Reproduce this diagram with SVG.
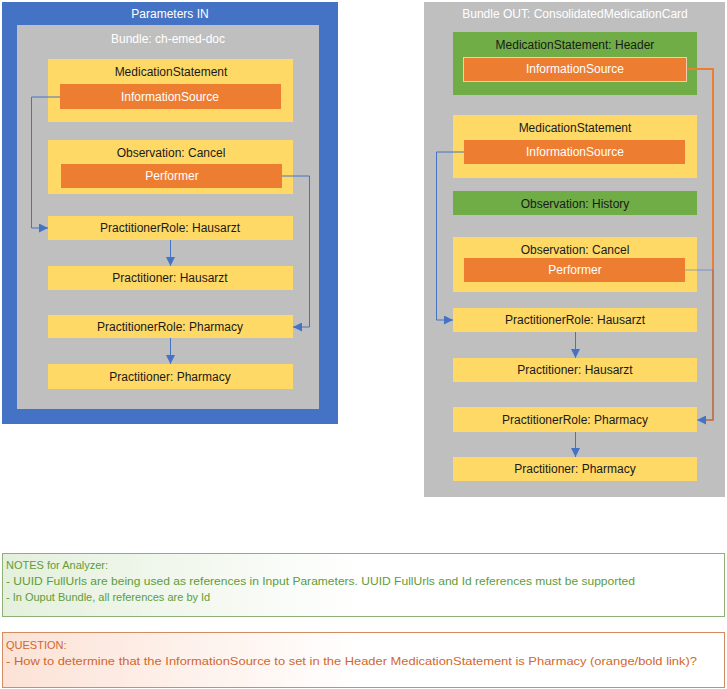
<svg xmlns="http://www.w3.org/2000/svg" width="727" height="689" viewBox="0 0 727 689">
<style>
text{font-family:"Liberation Sans",Arial,sans-serif;font-size:12px;text-anchor:middle;dominant-baseline:central}
.y{fill:#FFD966}
.o{fill:#ED7D31}
.g{fill:#70AD47}
.gr{fill:#BFBFBF}
.w{fill:#FFFFFF}
.k{fill:#1a1a1a}
.c{fill:none;stroke:#4472C4;stroke-width:1}
.n{font-size:11px;text-anchor:start;dominant-baseline:auto}
</style>
<defs>
<marker id="ah" viewBox="0 0 10 10" refX="10" refY="5" markerWidth="9" markerHeight="9" markerUnits="userSpaceOnUse" orient="auto">
<path d="M0,0 L10,5 L0,10 z" fill="#4472C4"/>
</marker>
<linearGradient id="gg" x1="0" y1="0" x2="1" y2="0">
<stop offset="0" stop-color="#E4F0DC"/>
<stop offset="0.5" stop-color="#FFFFFF"/>
<stop offset="1" stop-color="#FFFFFF"/>
</linearGradient>
<linearGradient id="og" x1="0" y1="0" x2="1" y2="0">
<stop offset="0" stop-color="#FCE2D6"/>
<stop offset="0.5" stop-color="#FFFFFF"/>
<stop offset="1" stop-color="#FFFFFF"/>
</linearGradient>
</defs>

<g id="params-in">
<rect x="2" y="2" width="336" height="422" fill="#4472C4"/>
<text x="170" y="14" class="w">Parameters IN</text>
</g>
<g id="bundle-in">
<rect x="17" y="25" width="302" height="384" class="gr"/>
<text x="168" y="39" class="w">Bundle: ch-emed-doc</text>
</g>
<g id="in-medstmt">
<rect x="48" y="59" width="245" height="63" class="y"/>
<text x="171" y="72" class="k">MedicationStatement</text>
</g>
<g id="in-medstmt-infosrc">
<rect x="60" y="84" width="221" height="25" class="o"/>
<text x="170" y="97" class="w">InformationSource</text>
</g>
<g id="in-obs-cancel">
<rect x="48" y="140" width="245" height="54" class="y"/>
<text x="171" y="153" class="k">Observation: Cancel</text>
</g>
<g id="in-performer">
<rect x="61" y="164" width="221" height="24" class="o"/>
<text x="172" y="176" class="w">Performer</text>
</g>
<g id="in-prrole-hausarzt">
<rect x="48" y="216" width="245" height="24" class="y"/>
<text x="170" y="228" class="k">PractitionerRole: Hausarzt</text>
</g>
<g id="in-pr-hausarzt">
<rect x="48" y="266" width="245" height="24" class="y"/>
<text x="170" y="278" class="k">Practitioner: Hausarzt</text>
</g>
<g id="in-prrole-pharmacy">
<rect x="48" y="315" width="245" height="23" class="y"/>
<text x="170" y="327" class="k">PractitionerRole: Pharmacy</text>
</g>
<g id="in-pr-pharmacy">
<rect x="48" y="364" width="245" height="25" class="y"/>
<text x="170" y="377" class="k">Practitioner: Pharmacy</text>
</g>

<g id="bundle-out">
<rect x="424" y="2" width="301" height="495" class="gr"/>
<text x="575" y="14" class="w">Bundle OUT: ConsolidatedMedicationCard</text>
</g>
<g id="out-medstmt-header">
<rect x="453" y="32" width="244" height="63" class="g"/>
<text x="575" y="45" class="k">MedicationStatement: Header</text>
</g>
<g id="out-header-infosrc">
<rect x="463.5" y="57.5" width="223" height="24" fill="#ED7D31" stroke="#F8CBAD" stroke-width="1"/>
<text x="575" y="69" class="w">InformationSource</text>
</g>
<g id="out-medstmt">
<rect x="453" y="115" width="244" height="63" class="y"/>
<text x="575" y="128" class="k">MedicationStatement</text>
</g>
<g id="out-medstmt-infosrc">
<rect x="464" y="140" width="221" height="24" class="o"/>
<text x="575" y="152" class="w">InformationSource</text>
</g>
<g id="out-obs-history">
<rect x="453" y="191" width="244" height="24" class="g"/>
<text x="575" y="204" class="k">Observation: History</text>
</g>
<g id="out-obs-cancel">
<rect x="453" y="237" width="244" height="55" class="y"/>
<text x="575" y="250" class="k">Observation: Cancel</text>
</g>
<g id="out-performer">
<rect x="464" y="258" width="221" height="24" class="o"/>
<text x="575" y="270" class="w">Performer</text>
</g>
<g id="out-prrole-hausarzt">
<rect x="453" y="308" width="244" height="24" class="y"/>
<text x="575" y="320" class="k">PractitionerRole: Hausarzt</text>
</g>
<g id="out-pr-hausarzt">
<rect x="453" y="358" width="244" height="24" class="y"/>
<text x="575" y="370" class="k">Practitioner: Hausarzt</text>
</g>
<g id="out-prrole-pharmacy">
<rect x="453" y="407" width="244" height="25" class="y"/>
<text x="575" y="420" class="k">PractitionerRole: Pharmacy</text>
</g>
<g id="out-pr-pharmacy">
<rect x="453" y="457" width="244" height="24" class="y"/>
<text x="575" y="469" class="k">Practitioner: Pharmacy</text>
</g>

<g id="connectors">
<polyline class="c" points="60,97 31.5,97 31.5,228 48,228" marker-end="url(#ah)"/>
<polyline class="c" points="282,176 309.5,176 309.5,327 293,327" marker-end="url(#ah)"/>
<line class="c" x1="170.5" y1="240" x2="170.5" y2="266" marker-end="url(#ah)"/>
<line class="c" x1="170.5" y1="338" x2="170.5" y2="364" marker-end="url(#ah)"/>
<polyline class="c" points="464,152 436.5,152 436.5,320 453,320" marker-end="url(#ah)"/>
<polyline fill="none" stroke="#ED7D31" stroke-width="2" points="687,69 713,69 713,420 706,420"/>
<polyline fill="none" stroke="#4472C4" stroke-width="1" stroke-opacity="0.55" points="685,270 713,270 713,420 697,420" marker-end="url(#ah)"/>
<line class="c" x1="575.5" y1="332" x2="575.5" y2="358" marker-end="url(#ah)"/>
<line class="c" x1="575.5" y1="432" x2="575.5" y2="457" marker-end="url(#ah)"/>
</g>

<g id="notes">
<rect x="2.5" y="553.5" width="722" height="63" fill="url(#gg)" stroke="#8FAF78" stroke-width="1"/>
<text x="6" y="569" class="n" fill="#5E9C3C">NOTES for Analyzer:</text>
<text x="6" y="585" class="n" fill="#5E9C3C" textLength="629" lengthAdjust="spacingAndGlyphs">- UUID FullUrls are being used as references in Input Parameters. UUID FullUrls and Id references must be supported</text>
<text x="6" y="601" class="n" fill="#5E9C3C">- In Ouput Bundle, all references are by Id</text>
</g>
<g id="question">
<rect x="2.5" y="632.5" width="722" height="55" fill="url(#og)" stroke="#D38B62" stroke-width="1"/>
<text x="6" y="649" class="n" fill="#D0672F">QUESTION:</text>
<text x="6" y="665" class="n" fill="#D0672F" textLength="691" lengthAdjust="spacingAndGlyphs">- How to determine that the InformationSource to set in the Header MedicationStatement is Pharmacy (orange/bold link)?</text>
</g>
</svg>
